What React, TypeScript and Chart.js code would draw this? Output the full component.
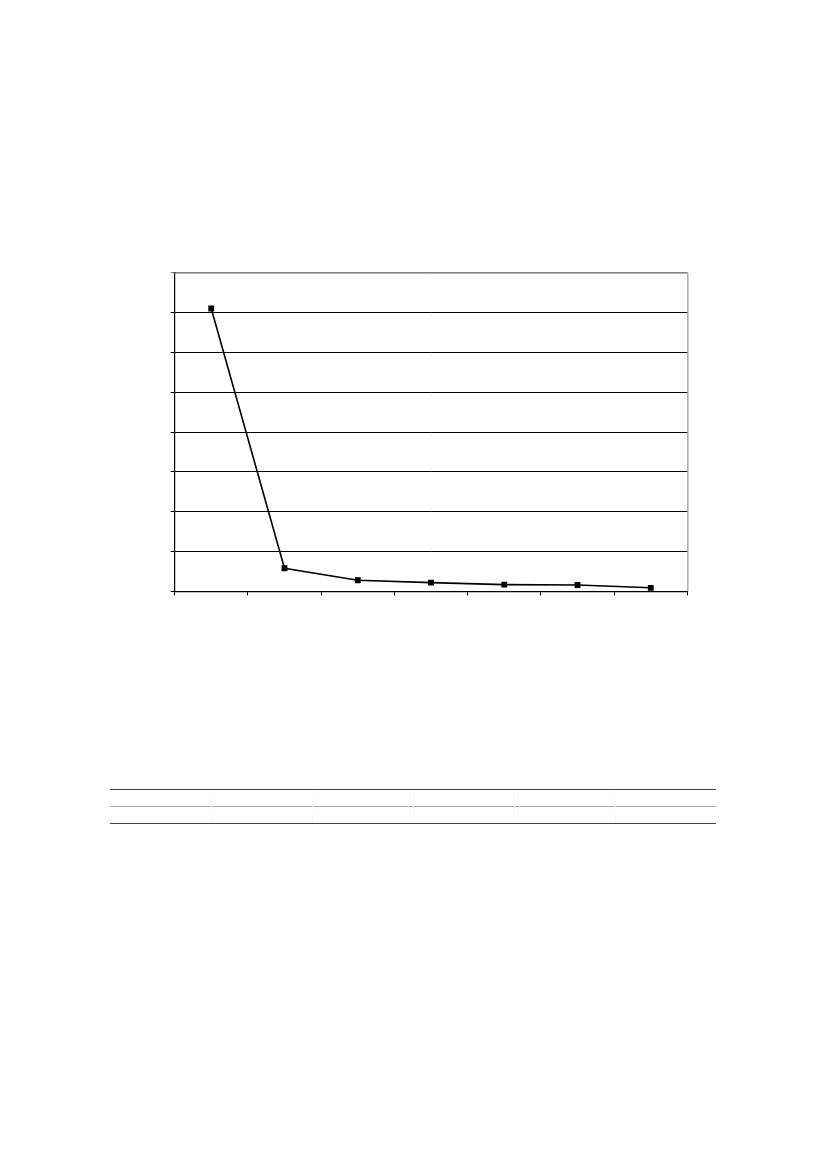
import React, { useEffect, useRef } from 'react';
import { Chart, registerables } from 'chart.js';

Chart.register(...registerables);

const categories: string[] = ['1', '2', '3', '4', '5', '6', '7'];
const seriesValues: number[] = [7.1, 0.58, 0.28, 0.22, 0.17, 0.16, 0.09];
const yMax = 8;
const tableColumns = 6;

// grey frame on top and right of the plot area
const frameBorder = {
    id: 'frameBorder',
    afterDraw(chart: Chart) {
        const { ctx, chartArea } = chart;
        ctx.save();
        ctx.strokeStyle = '#808080';
        ctx.lineWidth = 1;
        ctx.beginPath();
        ctx.moveTo(chartArea.left, chartArea.top + 0.5);
        ctx.lineTo(chartArea.right + 0.5, chartArea.top + 0.5);
        ctx.lineTo(chartArea.right + 0.5, chartArea.bottom);
        ctx.stroke();
        ctx.restore();
    },
};

const App: React.FC = () => {
    const canvasRef = useRef<HTMLCanvasElement | null>(null);

    useEffect(() => {
        if (!canvasRef.current) return;
        const chart = new Chart(canvasRef.current, {
            type: 'line',
            data: {
                labels: categories,
                datasets: [{
                    data: seriesValues,
                    borderColor: '#000',
                    borderWidth: 1.6,
                    pointStyle: 'rect',
                    pointRadius: 3,
                    pointBackgroundColor: '#000',
                    pointBorderColor: '#000',
                    tension: 0,
                }],
            },
            options: {
                animation: false,
                responsive: true,
                maintainAspectRatio: false,
                layout: { padding: { left: 0, right: 2, top: 2, bottom: 0 } },
                plugins: { legend: { display: false }, tooltip: { enabled: false } },
                scales: {
                    x: {
                        offset: true,
                        ticks: { display: false },
                        grid: { drawOnChartArea: false, drawTicks: true, tickLength: 4, color: '#000', offset: true },
                        border: { color: '#000', width: 1.2 },
                    },
                    y: {
                        min: 0,
                        max: yMax,
                        ticks: { display: false, stepSize: 1 },
                        grid: {
                            tickLength: 4,
                            color: (c: any) => (c.tick && c.tick.value === yMax ? '#808080' : '#000'),
                            lineWidth: 1,
                        },
                        border: { color: '#000', width: 1.2 },
                    },
                },
            },
            plugins: [frameBorder],
        });
        return () => chart.destroy();
    }, []);

    const cells = Array.from({ length: tableColumns }, (_, i) => i);

    return (
        <div style={{ position: 'absolute', left: 0, top: 0, width: 827, height: 1169, background: '#fff' }}>
            <div style={{ position: 'absolute', left: 169, top: 267, width: 524, height: 330 }}>
                <canvas ref={canvasRef} />
            </div>
            <table style={{ position: 'absolute', left: 110, top: 789, width: 606, borderCollapse: 'collapse', tableLayout: 'fixed' }}>
                <tbody>
                    {[0, 1].map(r => (
                        <tr key={r}>
                            {cells.map(c => (
                                <td
                                    key={c}
                                    style={{
                                        height: 16,
                                        padding: 0,
                                        borderTop: r === 0 ? '1.5px solid #444' : '1px solid #aaa',
                                        borderBottom: r === 1 ? '1.5px solid #444' : undefined,
                                        borderLeft: c > 0 ? '1px solid #f7f7f7' : undefined,
                                    }}
                                />
                            ))}
                        </tr>
                    ))}
                </tbody>
            </table>
        </div>
    );
};

export default App;
